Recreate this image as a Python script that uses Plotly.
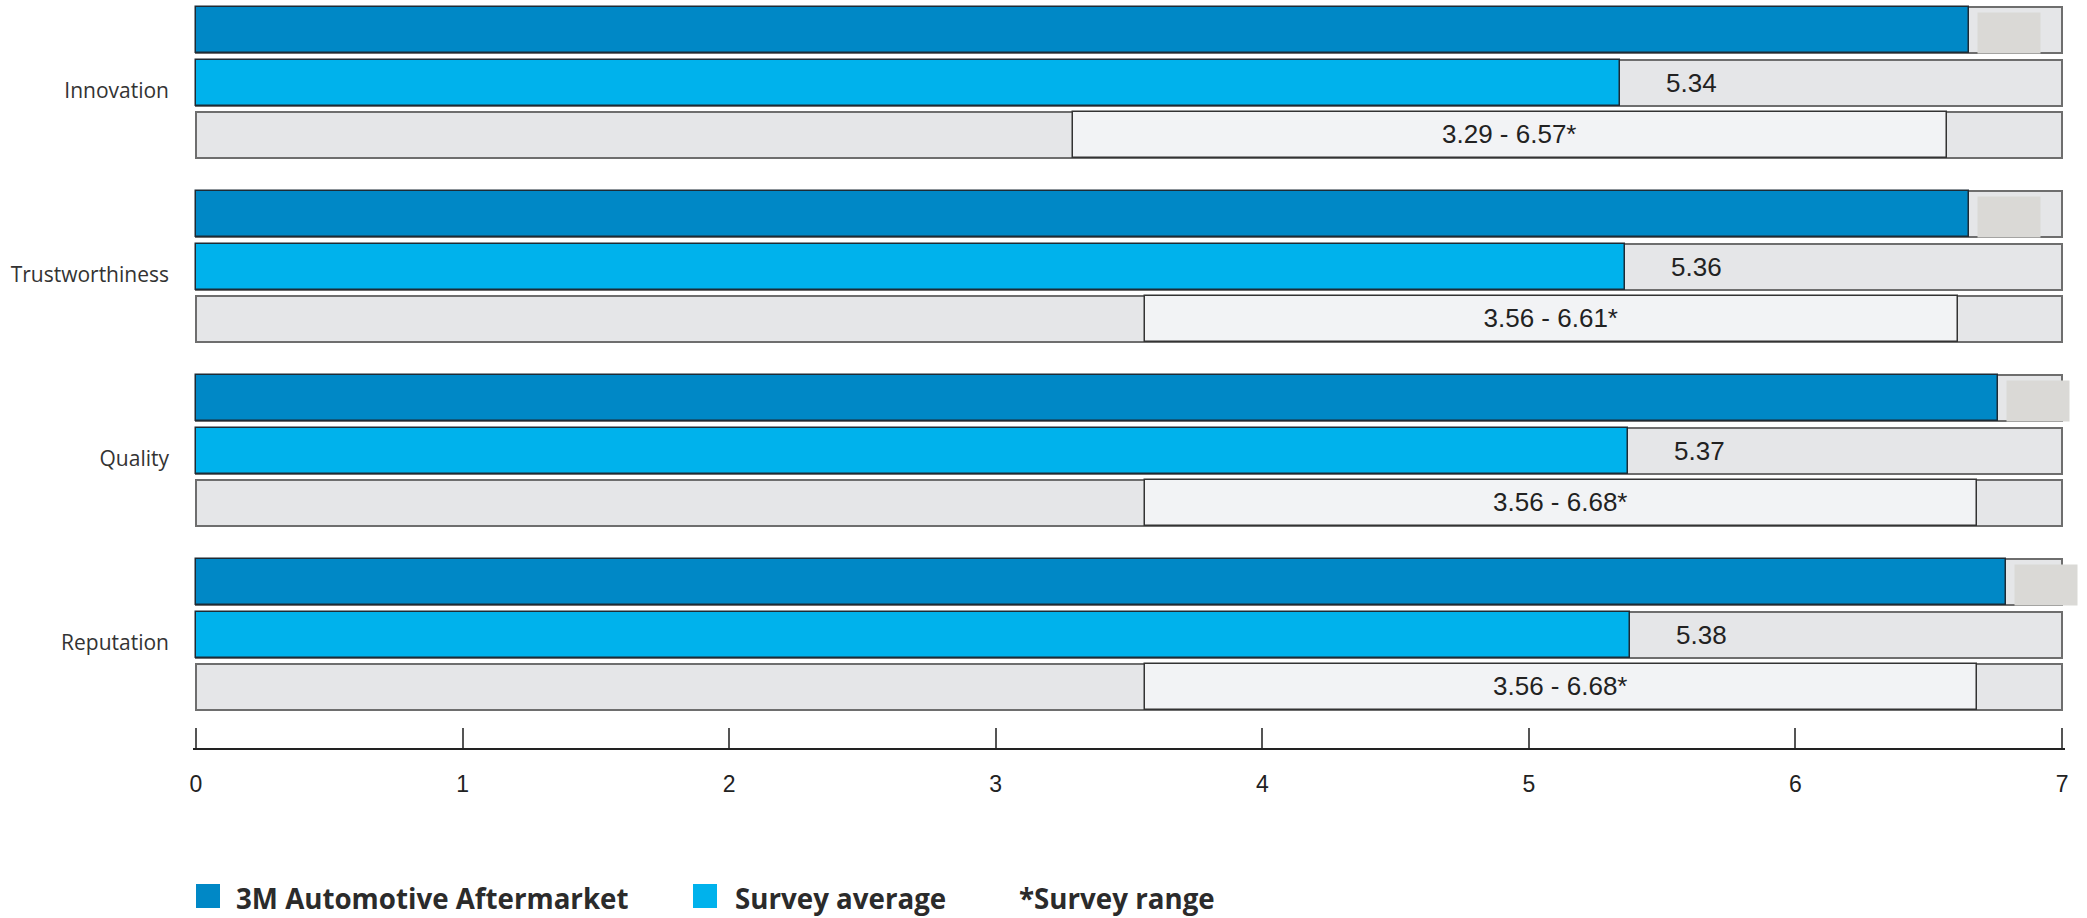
import plotly.graph_objects as go

# ---------------- data ----------------
categories = ["Innovation", "Trustworthiness", "Quality", "Reputation"]
brand_values = [6.65, 6.65, 6.76, 6.79]      # 3M Automotive Aftermarket (value labels are covered)
survey_avg = [5.34, 5.36, 5.37, 5.38]        # Survey average
range_low = [3.29, 3.56, 3.56, 3.56]         # Survey range low
range_high = [6.57, 6.61, 6.68, 6.68]        # Survey range high
x_ticks = [0, 1, 2, 3, 4, 5, 6, 7]
x_max = 7
legend_labels = ["3M Automotive Aftermarket", "Survey average", "*Survey range"]

# ---------------- layout constants ----------------
W, H = 2087, 918
ML, MR, MT, MB = 193, 22, 0, 170
PW, PH = W - ML - MR, H - MT - MB

DARK = "#0088c6"
LIGHT = "#00b2ec"
BG = "#e5e6e8"
RNG = "#f2f3f5"
COVER = "#dad9d6"

ROW = 0.288   # offset between rows within a group
BW = 0.25     # bar thickness
LABEL_DY = 0.045  # category labels sit slightly below the middle bar
PAD = 0.011       # small range padding so the end ticks at 0 and 7 are drawn
centers = list(range(len(categories)))
y_brand = [c - ROW for c in centers]
y_avg = [c for c in centers]
y_rng = [c + ROW for c in centers]
all_rows = y_brand + y_avg + y_rng

fig = go.Figure()

# full-length grey background bars
fig.add_trace(go.Bar(
    orientation="h", y=all_rows, x=[x_max] * len(all_rows), width=BW,
    marker=dict(color=BG, line=dict(color="#6e6e6e", width=2)),
    hoverinfo="skip", showlegend=False, cliponaxis=False))

# 3M bars
fig.add_trace(go.Bar(
    orientation="h", y=y_brand, x=brand_values, width=BW,
    marker=dict(color=DARK, line=dict(color="#1d2b35", width=1.5)),
    name=legend_labels[0], showlegend=False, cliponaxis=False))

# survey average bars
fig.add_trace(go.Bar(
    orientation="h", y=y_avg, x=survey_avg, width=BW,
    marker=dict(color=LIGHT, line=dict(color="#1d2b35", width=1.5)),
    name=legend_labels[1], showlegend=False, cliponaxis=False))

# survey range bars
fig.add_trace(go.Bar(
    orientation="h", y=y_rng, base=range_low,
    x=[h - l for l, h in zip(range_low, range_high)], width=BW,
    marker=dict(color=RNG, line=dict(color="#333333", width=1.5)),
    text=[f"{l:.2f} - {h:.2f}*" for l, h in zip(range_low, range_high)],
    textposition="inside", insidetextanchor="middle", constraintext="none",
    textfont=dict(family="Liberation Sans", size=26, color="#222222"),
    name=legend_labels[2], showlegend=False, cliponaxis=False))

annotations = []
# survey average value labels
for v, y in zip(survey_avg, y_avg):
    annotations.append(dict(
        x=v, y=y, xref="x", yref="y", text=f"{v:.2f}", showarrow=False,
        xanchor="left", yanchor="middle", xshift=44,
        font=dict(family="Liberation Sans", size=26, color="#222222")))

# grey boxes covering the 3M value labels
for v, y in zip(brand_values, y_brand):
    annotations.append(dict(
        x=v, y=y, xref="x", yref="y", text=" ", showarrow=False,
        xanchor="left", yanchor="middle", xshift=8, yshift=-3,
        width=62, height=40, bgcolor=COVER, borderpad=0))


def px_x(px):
    return (px - ML) / PW


def px_y(py):
    return (MT + PH - py) / PH


# legend
shapes = []
legend_items = [
    (196, 234, DARK, legend_labels[0]),
    (693, 733, LIGHT, legend_labels[1]),
    (None, 1017, None, legend_labels[2]),
]
for sq_x, tx, col, lab in legend_items:
    if sq_x is not None:
        shapes.append(dict(type="rect", xref="paper", yref="paper",
                           x0=px_x(sq_x), x1=px_x(sq_x + 24),
                           y0=px_y(908), y1=px_y(884),
                           fillcolor=col, line=dict(width=0)))
    annotations.append(dict(
        x=px_x(tx), y=px_y(898), xref="paper", yref="paper", text=f"<b>{lab}</b>",
        showarrow=False, xanchor="left", yanchor="middle",
        font=dict(family="Open Sans", size=27.7, color="#2b2b2b")))

fig.update_layout(
    width=W, height=H,
    margin=dict(l=ML, r=MR, t=MT, b=MB),
    paper_bgcolor="white", plot_bgcolor="white",
    barmode="overlay", bargap=0,
    showlegend=False,
    annotations=annotations, shapes=shapes,
    xaxis=dict(range=[-PAD, x_max + PAD], tickvals=x_ticks, showgrid=False, zeroline=False,
               showline=True, linecolor="#222222", linewidth=2,
               ticks="inside", ticklen=20, tickwidth=1.5, tickcolor="#555555",
               ticklabelstandoff=14,
               tickfont=dict(family="Liberation Sans", size=23, color="#222222")),
    yaxis=dict(range=[(PH - 82.5) / 184, -82.5 / 184],
               tickvals=[c + LABEL_DY for c in centers], ticktext=categories,
               showgrid=False, zeroline=False, showline=False, ticks="",
               ticklabelstandoff=23,
               tickfont=dict(family="Open Sans", size=21, color="#333333")),
)

fig.write_html("out.html")
